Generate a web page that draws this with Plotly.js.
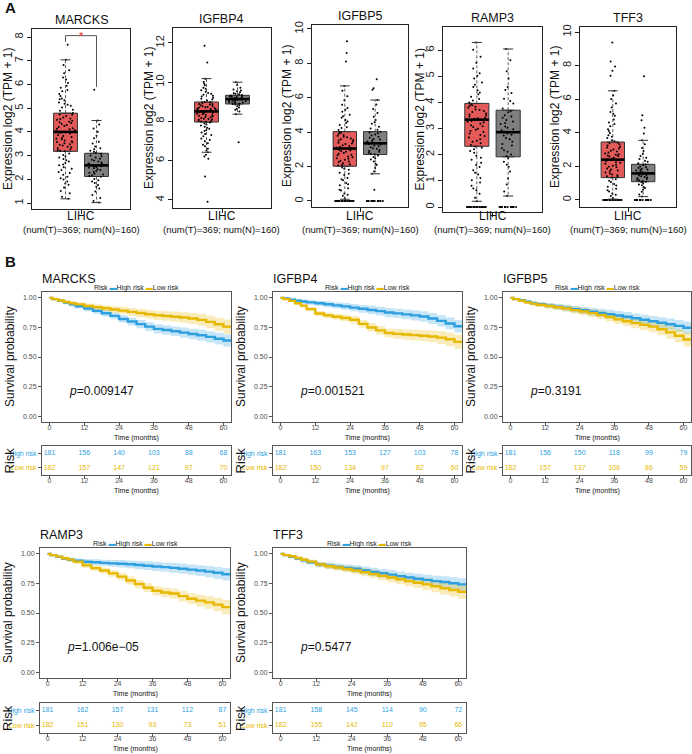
<!DOCTYPE html>
<html><head><meta charset="utf-8">
<script src="https://cdn.plot.ly/plotly-3.0.1.min.js"></script>
<style>html,body{margin:0;padding:0;background:#fff;}#chart{width:692px;height:754px;}</style>
</head><body><div id="chart"></div>
<script>
// ================= DATA =================
// ---- Panel A : expression box plots (tumor vs normal) ----
const genes = ["MARCKS","IGFBP4","IGFBP5","RAMP3","TFF3"];
const cancerLabel = "LIHC";
const countLabel = "(num(T)=369; num(N)=160)";
const yTitleA = "Expression log2 (TPM + 1)";

const q1T  = [3.18, 7.97, 2.02, 2.32, 1.33];
const medT = [4.00, 8.51, 3.05, 3.34, 2.40];
const q3T  = [4.79, 8.99, 4.03, 3.96, 3.45];
const loT  = [1.18, 6.43, 0.10, 0.22, 0.05];
const hiT  = [7.04, 10.18, 6.69, 6.29, 6.50];
const q1N  = [2.12, 8.89, 2.70, 1.92, 1.09];
const medN = [2.59, 9.14, 3.35, 2.86, 1.58];
const q3N  = [3.10, 9.33, 4.03, 3.70, 2.12];
const loN  = [1.02, 8.37, 1.58, 0.42, 0.20];
const hiN  = [4.48, 10.00, 5.87, 6.04, 3.55];

const ptsT_MARCKS = [7.68,7.04,6.82,6.6,6.47,6.3,6.21,6.06,5.95,5.86,5.71,5.6,5.52,5.41,5.34,5.24,5.19,5.1,5.03,4.94,4.89,4.8,4.73,4.67,4.57,4.51,4.43,4.38,4.29,4.25,4.16,4.11,4.04,4.0,3.96,3.87,3.83,3.74,3.69,3.61,3.56,3.48,3.43,3.35,3.31,3.23,3.19,3.09,3.03,2.92,2.86,2.75,2.69,2.59,2.51,2.39,2.31,2.19,2.11,1.99,1.91,1.77,1.66,1.51,1.41,1.27,1.18,
  4.72,4.61,4.47,4.33,4.21,4.13,4.07,3.93,3.79,3.71,3.64,3.52,3.46,3.38,3.27,3.21,4.55,4.41,3.99,3.58,5.15,5.38,5.77,2.97,2.81,2.63,2.45,2.27,2.05,1.83];
const ptsN_MARCKS = [5.78,4.48,4.31,4.14,4.01,3.84,3.73,3.59,3.51,3.39,3.31,3.21,3.16,3.07,3.01,2.92,2.87,2.79,2.75,2.67,2.63,2.57,2.54,2.47,2.43,2.35,2.31,2.24,2.21,2.14,2.11,2.02,1.96,1.85,1.76,1.61,1.49,1.34,1.21,1.09,1.02,
  2.97,2.83,2.71,2.61,2.55,2.49,2.39,2.28,2.17,3.12,3.27,1.91,1.69,2.66,2.51];
const ptsT_IGFBP4 = [11.86,11.0,10.18,10.01,9.84,9.71,9.59,9.51,9.41,9.36,9.27,9.21,9.12,9.07,8.99,8.96,8.89,8.86,8.79,8.77,8.71,8.69,8.63,8.61,8.55,8.53,8.47,8.45,8.39,8.37,8.31,8.29,8.23,8.21,8.14,8.11,8.04,8.0,7.94,7.89,7.79,7.73,7.63,7.56,7.44,7.36,7.24,7.13,6.99,6.89,6.74,6.61,6.43,6.3,6.21,6.1,5.19,3.91,
  8.93,8.83,8.74,8.66,8.58,8.5,8.42,8.34,8.26,8.18,8.08,8.02,7.98,8.88,8.62,8.44,8.12,9.16,9.31,9.45,7.84,7.68,7.51,7.31,7.05,6.81,6.52,9.66,9.92,8.72];
const ptsN_IGFBP4 = [10.0,9.86,9.71,9.63,9.54,9.49,9.41,9.38,9.32,9.3,9.24,9.22,9.17,9.16,9.11,9.1,9.05,9.03,8.97,8.95,8.89,8.86,8.77,8.71,8.59,8.51,8.37,6.94,
  9.28,9.19,9.13,9.08,9.01,8.92,9.26,9.35,9.44,9.58,8.82,8.65,9.14,9.04,8.98];
const ptsT_IGFBP5 = [9.28,8.6,8.11,6.69,6.41,6.09,5.86,5.59,5.41,5.19,5.01,4.84,4.71,4.54,4.41,4.24,4.13,3.99,3.91,3.79,3.71,3.59,3.51,3.39,3.31,3.19,3.11,3.02,2.94,2.86,2.74,2.66,2.54,2.46,2.34,2.26,2.14,2.06,1.94,1.81,1.64,1.51,1.34,1.21,1.04,0.91,0.74,0.61,0.44,0.31,0.14,
  3.96,3.84,3.74,3.63,3.54,3.44,3.34,3.24,3.14,3.04,2.97,2.89,2.79,2.69,2.59,2.49,2.39,2.29,2.19,2.09,4.28,4.62,4.93,5.31,1.87,1.58,1.27,0.97,0.66,0.36,
  0,0,0,0,0,0,0,0,0,0,0,0,0,0,0,0,0,0,0,0,0,0,0,0];
const ptsN_IGFBP5 = [7.08,6.56,6.46,5.87,5.61,5.34,5.11,4.89,4.71,4.49,4.31,4.14,4.02,3.93,3.81,3.73,3.61,3.53,3.43,3.38,3.29,3.23,3.13,3.07,2.97,2.91,2.81,2.75,2.65,2.56,2.41,2.29,2.09,1.91,1.71,1.58,0.65,
  3.98,3.86,3.68,3.57,3.46,3.34,3.18,3.03,2.86,2.71,4.22,4.58,2.48,2.17,3.31,
  0,0,0,0,0,0,0,0,0,0,0,0,0,0,0,0];
const ptsT_RAMP3 = [6.29,6.01,5.74,5.51,5.29,5.11,4.91,4.76,4.59,4.46,4.31,4.21,4.07,3.99,3.89,3.83,3.73,3.67,3.57,3.51,3.42,3.37,3.29,3.23,3.13,3.06,2.95,2.87,2.75,2.66,2.53,2.44,2.31,2.21,2.07,1.96,1.81,1.69,1.53,1.41,1.24,1.11,0.94,0.81,0.64,0.51,0.35,0.22,
  3.93,3.86,3.79,3.71,3.63,3.54,3.46,3.39,3.32,3.26,3.18,3.09,2.99,2.91,2.81,2.71,2.59,2.49,2.37,2.27,4.13,4.38,4.67,5.02,2.14,1.88,1.61,1.31,1.02,0.71,
  0,0,0,0,0,0,0,0,0,0,0,0,0,0,0,0,0,0,0,0,0,0,0,0];
const ptsN_RAMP3 = [6.04,5.61,5.19,4.91,4.59,4.36,4.14,3.96,3.77,3.66,3.51,3.41,3.27,3.17,3.03,2.93,2.81,2.73,2.59,2.49,2.35,2.25,2.11,2.01,1.87,1.73,1.54,1.36,1.09,0.86,0.59,0.42,
  3.62,3.46,3.33,3.21,3.08,2.97,2.86,2.76,2.64,2.41,2.17,1.95,4.05,4.47,1.62,
  0,0,0,0,0,0,0,0,0,0,0,0,0,0,0,0];
const ptsT_TFF3 = [9.37,8.25,7.95,7.7,7.4,6.5,6.24,6.01,5.74,5.51,5.24,5.01,4.79,4.61,4.39,4.21,3.99,3.86,3.69,3.56,3.41,3.31,3.17,3.07,2.93,2.83,2.69,2.59,2.45,2.37,2.25,2.16,2.03,1.94,1.81,1.71,1.57,1.47,1.34,1.23,1.07,0.95,0.79,0.67,0.51,0.39,0.23,0.11,
  3.38,3.24,3.12,3.01,2.89,2.77,2.64,2.52,2.41,2.31,2.21,2.09,1.98,1.88,1.76,1.64,1.52,1.41,1.38,2.61,2.72,3.49,3.77,4.11,4.52,5.13,1.15,0.86,0.58,0.31,
  0,0,0,0,0,0,0,0,0,0,0,0,0,0,0,0,0,0,0,0,0,0,0,0];
const ptsN_TFF3 = [7.37,5.05,4.75,4.3,3.96,3.55,3.31,3.09,2.91,2.74,2.61,2.44,2.33,2.19,2.11,1.99,1.91,1.81,1.75,1.65,1.61,1.53,1.49,1.41,1.37,1.29,1.25,1.17,1.13,1.05,0.99,0.87,0.77,0.61,0.49,0.33,0.2,
  2.06,1.94,1.86,1.78,1.69,1.57,1.45,1.33,1.21,1.09,2.27,2.52,0.92,0.71,1.62,
  0,0,0,0,0,0,0,0,0,0,0,0,0,0,0,0];

const ptsT = [ptsT_MARCKS, ptsT_IGFBP4, ptsT_IGFBP5, ptsT_RAMP3, ptsT_TFF3];
const ptsN = [ptsN_MARCKS, ptsN_IGFBP4, ptsN_IGFBP5, ptsN_RAMP3, ptsN_TFF3];

// ---- Panel B : Kaplan-Meier curves ----
const kmGenes = ["MARCKS","IGFBP4","IGFBP5","RAMP3","TFF3"];
const riskGroups = ["High risk","Low risk"];
const kmTime = [0,1,3,5,7,9,12,15,18,21,24,27,30,33,36,39,42,45,48,51,54,57,60,63];
const survHigh_MARCKS = [1,.99,.975,.96,.945,.93,.91,.89,.87,.848,.822,.8,.778,.757,.738,.728,.718,.706,.695,.684,.67,.655,.64,.615];
const survLow_MARCKS  = [1,.99,.978,.965,.955,.945,.932,.922,.912,.902,.892,.882,.872,.862,.853,.847,.841,.834,.826,.814,.797,.777,.757,.732];
const survHigh_IGFBP4 = [1,.995,.985,.977,.97,.962,.955,.946,.937,.928,.918,.908,.898,.888,.876,.869,.861,.852,.843,.826,.806,.784,.76,.738];
const survLow_IGFBP4  = [1,.99,.975,.955,.935,.905,.868,.852,.841,.83,.815,.78,.75,.725,.703,.696,.69,.685,.68,.674,.664,.65,.628,.59];
const survHigh_IGFBP5 = [1,.99,.98,.967,.956,.946,.935,.925,.915,.905,.895,.884,.873,.862,.851,.84,.828,.815,.802,.79,.777,.763,.748,.732];
const survLow_IGFBP5  = [1,.99,.976,.962,.952,.942,.931,.921,.91,.897,.885,.871,.856,.838,.818,.802,.787,.772,.757,.735,.708,.68,.648,.618];
const survHigh_RAMP3  = [1,.99,.975,.96,.95,.942,.934,.929,.924,.92,.917,.912,.906,.9,.894,.888,.882,.875,.867,.859,.85,.84,.828,.808];
const survLow_RAMP3   = [1,.99,.977,.963,.952,.935,.903,.88,.86,.835,.808,.775,.745,.714,.688,.674,.665,.643,.62,.605,.59,.571,.55,.52];
const survHigh_TFF3   = [1,.99,.975,.96,.945,.93,.91,.9,.89,.882,.874,.861,.848,.836,.825,.812,.8,.79,.78,.77,.762,.752,.742,.72];
const survLow_TFF3    = [1,.99,.98,.966,.951,.935,.91,.896,.885,.872,.86,.845,.83,.815,.8,.785,.77,.756,.742,.726,.71,.695,.68,.66];
const ciHalfHigh = [0,.006,.011,.014,.017,.019,.022,.025,.027,.029,.031,.033,.035,.037,.039,.04,.041,.043,.044,.046,.048,.05,.053,.057];
const ciHalfLow  = [0,.006,.01,.013,.016,.018,.021,.024,.026,.028,.031,.033,.035,.037,.039,.041,.043,.045,.047,.05,.053,.056,.06,.065];
const survHigh = [survHigh_MARCKS, survHigh_IGFBP4, survHigh_IGFBP5, survHigh_RAMP3, survHigh_TFF3];
const survLow  = [survLow_MARCKS, survLow_IGFBP4, survLow_IGFBP5, survLow_RAMP3, survLow_TFF3];
const pValues = ["0.009147","0.001521","0.3191","1.006e\u221205","0.5477"];

const riskTimes = [0,12,24,36,48,60];
const riskHigh_MARCKS = [181,156,140,103,88,68];
const riskLow_MARCKS  = [182,157,147,121,97,70];
const riskHigh_IGFBP4 = [181,163,153,127,103,78];
const riskLow_IGFBP4  = [182,150,134,97,82,60];
const riskHigh_IGFBP5 = [181,156,150,118,99,79];
const riskLow_IGFBP5  = [182,157,137,106,86,59];
const riskHigh_RAMP3  = [181,162,157,131,112,87];
const riskLow_RAMP3   = [182,151,130,93,73,51];
const riskHigh_TFF3   = [181,158,145,114,90,72];
const riskLow_TFF3    = [182,155,142,110,95,66];
const riskHigh = [riskHigh_MARCKS, riskHigh_IGFBP4, riskHigh_IGFBP5, riskHigh_RAMP3, riskHigh_TFF3];
const riskLow  = [riskLow_MARCKS, riskLow_IGFBP4, riskLow_IGFBP5, riskLow_RAMP3, riskLow_TFF3];

// ================= LAYOUT / STYLE =================
const W = 692, H = 754;
const px = x => x / W;
const py = y => 1 - y / H;
const FONT = "Liberation Sans, Arial, Helvetica, sans-serif";
const RED = "#E35A5B", GRAY = "#7F7F7F";
const BLUE = "#2E9FDF", GOLD = "#E7B800";
const BLUE_F = "rgba(46,159,223,0.27)", GOLD_F = "rgba(231,184,0,0.27)";

const boxFrames = [[32,130,29,209],[173,271,28,208],[312,408,25,207],[443,542,27,212],[580,676,27,207]];
const yRangesA = [[0.75,8.34],[3.59,12.76],[-0.35,10.23],[-0.19,6.88],[-0.42,10.3]];
const yDtickA = [1,2,2,1,2];
const yTitleXA = [8,149,287,419,555];
const BW = 0.77, CW = 0.16;

const kmFrames = [[42,231,292,422],[273,462,292,422],[503,691,292,422],[40,230,548,678],[273,466,548,678]];
const tableFrames = [[42,231,446,475],[273,462,446,475],[503,691,446,475],[40,230,703,733],[273,466,703,733]];
const KM_XR = [-2.6, 62.6];

const traces = [];
const layout = {
  width: W, height: H, margin: {l:0, r:0, t:0, b:0},
  paper_bgcolor: "#fff", plot_bgcolor: "#fff", showlegend: false,
  font: {family: FONT, color: "#000"},
  annotations: [], shapes: []
};
const ax = n => (n === 1 ? "" : String(n));
function ann(o){ layout.annotations.push(Object.assign({showarrow:false, xref:"paper", yref:"paper", font:{family:FONT, size:12, color:"#000"}}, o)); }

ann({text:"<b>A</b>", x:px(3), y:py(8), xanchor:"left", yanchor:"middle", font:{family:FONT,size:15,color:"#111"}});
ann({text:"<b>B</b>", x:px(3), y:py(261), xanchor:"left", yanchor:"middle", font:{family:FONT,size:15,color:"#111"}});

// ---- Panel A ----
genes.forEach((g, i) => {
  const n = i + 1, xa = "x" + ax(n), ya = "y" + ax(n);
  const [l, r, t, b] = boxFrames[i];
  layout["xaxis" + ax(n)] = {type:"linear", domain:[px(l), px(r)], range:[-0.08, 3.08], anchor:ya,
    showline:true, mirror:true, linecolor:"#222", linewidth:1, ticks:"outside", ticklen:4, tickcolor:"#222",
    tickvals:[1.5], showticklabels:false, showgrid:false, zeroline:false};
  layout["yaxis" + ax(n)] = {type:"linear", domain:[py(b), py(t)], range:yRangesA[i], anchor:xa,
    showline:true, mirror:true, linecolor:"#222", linewidth:1, ticks:"outside", ticklen:4, tickcolor:"#222",
    tick0:0, dtick:yDtickA[i], tickangle:-90, tickfont:{family:FONT, size:11, color:"#222"},
    showgrid:false, zeroline:false};

  const st = [[q1T[i], medT[i], q3T[i], loT[i], hiT[i], ptsT[i], RED],
              [q1N[i], medN[i], q3N[i], loN[i], hiN[i], ptsN[i], GRAY]];
  st.forEach((s, k) => {
    const pos = k + 1;
    traces.push({type:"box", xaxis:xa, yaxis:ya, x:[pos], q1:[s[0]], median:[s[1]], q3:[s[2]],
      lowerfence:[s[0]], upperfence:[s[2]], width:BW, fillcolor:s[6], line:{color:"#333", width:1},
      boxpoints:false, hoverinfo:"skip"});
  });
  st.forEach((s, k) => {
    traces.push({type:"box", xaxis:xa, yaxis:ya, x0:k + 1, y:s[5], width:BW, boxpoints:"all", jitter:0.85,
      pointpos:0, fillcolor:"rgba(0,0,0,0)", line:{width:0, color:"rgba(0,0,0,0)"},
      marker:{size:2, color:"#000"}, hoverinfo:"skip"});
  });
  st.forEach((s, k) => {
    const pos = k + 1;
    traces.push({type:"scatter", mode:"lines", xaxis:xa, yaxis:ya, x:[pos,pos,null,pos,pos],
      y:[s[2], s[4], null, s[0], s[3]], line:{color:"#333", width:0.8, dash:"3px,2px"}, hoverinfo:"skip"});
    traces.push({type:"scatter", mode:"lines", xaxis:xa, yaxis:ya, x:[pos-CW,pos+CW,null,pos-CW,pos+CW],
      y:[s[4], s[4], null, s[3], s[3]], line:{color:"#333", width:1}, hoverinfo:"skip"});
    traces.push({type:"scatter", mode:"lines", xaxis:xa, yaxis:ya, x:[pos-BW/2, pos+BW/2],
      y:[s[1], s[1]], line:{color:"#000", width:2.6}, hoverinfo:"skip"});
  });

  ann({text:g, x:px((l + r) / 2), y:py(t - 9), xanchor:"center", yanchor:"middle", font:{family:FONT,size:12.5,color:"#111"}});
  ann({text:yTitleA, x:px(yTitleXA[i]), y:py((t + b) / 2), textangle:-90, xanchor:"center", yanchor:"middle", font:{family:FONT,size:12,color:"#111"}});
  ann({text:cancerLabel, x:px((l + r) / 2), y:py(216), xanchor:"center", yanchor:"middle", font:{family:FONT,size:12,color:"#111"}});
  ann({text:countLabel, x:px((l + r) / 2), y:py(229), xanchor:"center", yanchor:"middle", font:{family:FONT,size:9.5,color:"#111"}});
});

// significance bracket (MARCKS)
{
  const yl = Math.max(...ptsT[0]) + 0.12, yr = Math.max(...ptsN[0]) + 0.12, yt = Math.max(...ptsT[0]) + 0.38;
  layout.shapes.push({type:"path", xref:"x", yref:"y", path:`M 1,${yl} L 1,${yt} L 2,${yt} L 2,${yr}`, line:{color:"#555", width:1}});
  ann({text:"*", xref:"x", yref:"y", x:1.5, y:yt, xanchor:"center", yanchor:"middle", font:{family:FONT,size:11,color:"#e8261c"}});
}

// ---- Panel B ----
const axisKM = (dom, rng, anchor) => ({type:"linear", domain:dom, range:rng, anchor:anchor, showline:true, mirror:true,
  linecolor:"#555", linewidth:1, ticks:"outside", ticklen:3, tickcolor:"#555",
  tickfont:{family:FONT, size:7, color:"#4d4d4d"}, showgrid:false, zeroline:false});

kmGenes.forEach((g, i) => {
  const n = 6 + i, m = 11 + i;
  const [l, r, t, b] = kmFrames[i];
  const [tl, tr, tt, tb] = tableFrames[i];
  layout["xaxis" + n] = Object.assign(axisKM([px(l), px(r)], KM_XR, "y" + n), {tickvals:riskTimes, ticklabelstandoff:-4});
  layout["yaxis" + n] = Object.assign(axisKM([py(b), py(t)], [-0.05, 1.05], "x" + n),
    {tickvals:[0, 0.25, 0.5, 0.75, 1], ticktext:["0.00","0.25","0.50","0.75","1.00"]});
  layout["xaxis" + m] = Object.assign(axisKM([px(tl), px(tr)], KM_XR, "y" + m), {tickvals:riskTimes, ticklabelstandoff:-4});
  layout["yaxis" + m] = Object.assign(axisKM([py(tb), py(tt)], [-0.5, 1.5], "x" + m),
    {tickvals:[0, 1], ticktext:[`<span style="color:${GOLD}">${riskGroups[1]}</span>`, `<span style="color:${BLUE}">${riskGroups[0]}</span>`]});

  const xa = "x" + n, ya = "y" + n;
  const series = [[survHigh[i], ciHalfHigh, BLUE, BLUE_F], [survLow[i], ciHalfLow, GOLD, GOLD_F]];
  series.forEach(se => {
    const lo = se[0].map((v, j) => Math.max(0, v - se[1][j]));
    const up = se[0].map((v, j) => Math.min(1, v + se[1][j]));
    traces.push({type:"scatter", mode:"lines", xaxis:xa, yaxis:ya, x:kmTime, y:lo,
      line:{width:0, color:"rgba(0,0,0,0)", shape:"hv"}, hoverinfo:"skip"});
    traces.push({type:"scatter", mode:"lines", xaxis:xa, yaxis:ya, x:kmTime, y:up, fill:"tonexty",
      fillcolor:se[3], line:{width:0, color:"rgba(0,0,0,0)", shape:"hv"}, hoverinfo:"skip"});
  });
  series.forEach(se => {
    traces.push({type:"scatter", mode:"lines", xaxis:xa, yaxis:ya, x:kmTime, y:se[0],
      line:{width:2.4, color:se[2], shape:"hv"}, hoverinfo:"skip"});
  });
  // risk table numbers
  traces.push({type:"scatter", mode:"text", xaxis:"x" + m, yaxis:"y" + m, x:riskTimes, y:riskTimes.map(() => 1),
    text:riskHigh[i].map(String), textposition:"middle center", textfont:{family:FONT, size:7, color:BLUE}, hoverinfo:"skip"});
  traces.push({type:"scatter", mode:"text", xaxis:"x" + m, yaxis:"y" + m, x:riskTimes, y:riskTimes.map(() => 0),
    text:riskLow[i].map(String), textposition:"middle center", textfont:{family:FONT, size:7, color:GOLD}, hoverinfo:"skip"});

  // texts
  ann({text:g, x:px(l - 2), y:py(t - 13), xanchor:"left", yanchor:"middle", font:{family:FONT,size:12.5,color:"#111"}});
  ann({text:`Risk <span style="color:${BLUE}">▬</span>${riskGroups[0]} <span style="color:${GOLD}">▬</span>${riskGroups[1]}`,
    x:px((l + r) / 2), y:py(t - 4), xanchor:"center", yanchor:"middle", font:{family:FONT,size:7,color:"#222"}});
  ann({text:"Survival probability", x:px(l - 32), y:py((t + b) / 2), textangle:-90, xanchor:"center", yanchor:"middle", font:{family:FONT,size:12,color:"#111"}});
  ann({text:"Time (months)", x:px((l + r) / 2), y:py(b + 16), xanchor:"center", yanchor:"middle", font:{family:FONT,size:7,color:"#111"}});
  ann({text:`<i>p</i>=${pValues[i]}`, xref:xa, yref:ya, x:6, y:0.21, xanchor:"left", yanchor:"middle", font:{family:FONT,size:12,color:"#111"}});
  ann({text:"Risk", x:px(tl - 33), y:py((tt + tb) / 2), textangle:-90, xanchor:"center", yanchor:"middle", font:{family:FONT,size:13,color:"#111"}});
  ann({text:"Time (months)", x:px((tl + tr) / 2), y:py(tb + 16), xanchor:"center", yanchor:"middle", font:{family:FONT,size:7,color:"#111"}});
});

Plotly.newPlot("chart", traces, layout, {displayModeBar:false, staticPlot:true});
</script>
</body></html>
